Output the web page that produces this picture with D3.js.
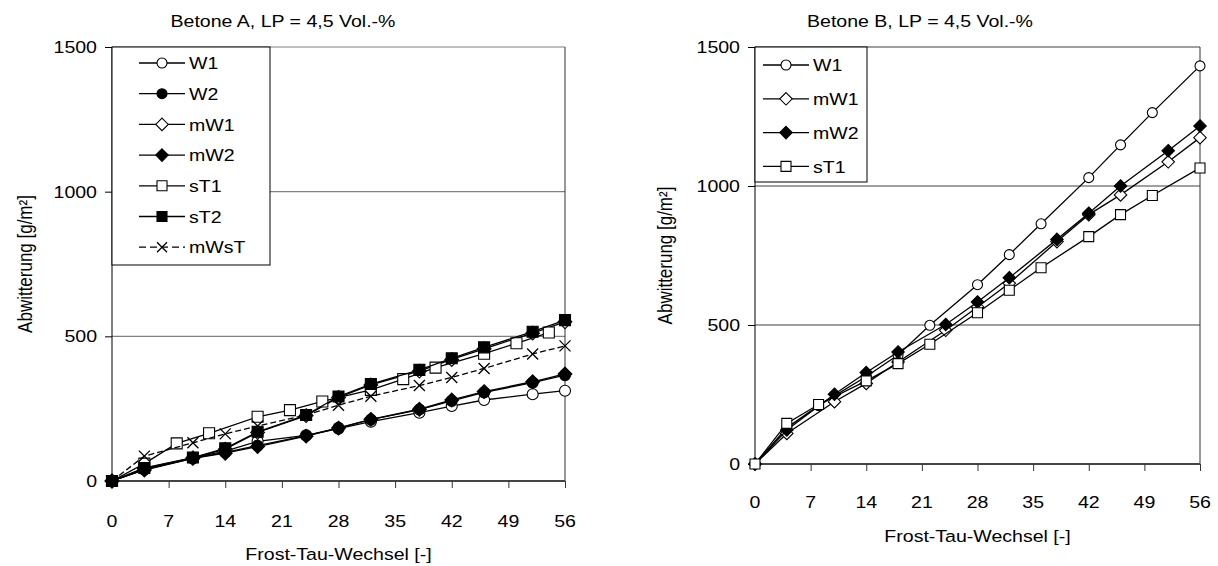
<!DOCTYPE html>
<html>
<head>
<meta charset="utf-8">
<script src="https://cdn.jsdelivr.net/npm/d3@7"></script>
<style>
  body { margin: 0; background: #fff; }
  text { font-family: "Liberation Sans", Arial, sans-serif; fill: #000; }
</style>
</head>
<body>
<svg id="mainsvg" width="1218" height="566"></svg>
<script>
// ---- data ----
const xTicks = [0, 7, 14, 21, 28, 35, 42, 49, 56];
const yTicks = [0, 500, 1000, 1500];

// Betone A
const daysA = [0, 4, 10, 14, 18, 24, 28, 32, 38, 42, 46, 52, 56];
const daysAsT1 = [0, 4, 8, 12, 18, 22, 26, 32, 36, 40, 46, 50, 54];
const aW1 = [0, 40, 80, 103, 137, 158, 181, 205, 236, 259, 280, 300, 312];
const aW2 = [0, 40, 78, 99, 122, 157, 184, 212, 247, 277, 306, 340, 366];
const amW1 = [0, 44, 80, 110, 168, 226, 289, 332, 380, 420, 457, 511, 550];
const amW2 = [0, 38, 78, 96, 119, 155, 183, 213, 248, 280, 309, 343, 370];
const asT1 = [0, 60, 130, 165, 222, 245, 275, 315, 352, 392, 440, 476, 513];
const asT2 = [0, 45, 81, 113, 170, 228, 292, 335, 384, 424, 462, 516, 556];
const amWsT = [0, 86, 132, 163, 190, 228, 262, 293, 330, 358, 389, 439, 467];

// Betone B
const daysB1 = [0, 4, 8, 14, 18, 22, 28, 32, 36, 42, 46, 50, 56];
const daysB2 = [0, 4, 10, 14, 18, 24, 28, 32, 38, 42, 46, 52, 56];
const bW1 = [0, 130, 210, 315, 392, 499, 645, 753, 864, 1030, 1148, 1264, 1432];
const bmW1 = [0, 110, 224, 290, 367, 481, 565, 650, 800, 897, 968, 1087, 1174];
const bmW2 = [0, 122, 251, 329, 403, 502, 583, 670, 808, 902, 1000, 1127, 1216];
const bsT1 = [0, 146, 214, 299, 361, 431, 544, 625, 706, 818, 897, 966, 1065];

const seriesA = [
  { name: 'W1', days: daysA, values: aW1, marker: 'circle', fill: '#fff' },
  { name: 'W2', days: daysA, values: aW2, marker: 'circle', fill: '#000' },
  { name: 'mW1', days: daysA, values: amW1, marker: 'diamond', fill: '#fff' },
  { name: 'mW2', days: daysA, values: amW2, marker: 'diamond', fill: '#000' },
  { name: 'sT1', days: daysAsT1, values: asT1, marker: 'square', fill: '#fff' },
  { name: 'sT2', days: daysA, values: asT2, marker: 'square', fill: '#000' },
  { name: 'mWsT', days: daysA, values: amWsT, marker: 'x', fill: 'none', dash: '6,3' },
];
const seriesB = [
  { name: 'W1', days: daysB1, values: bW1, marker: 'circle', fill: '#fff' },
  { name: 'mW1', days: daysB2, values: bmW1, marker: 'diamond', fill: '#fff' },
  { name: 'mW2', days: daysB2, values: bmW2, marker: 'diamond', fill: '#000' },
  { name: 'sT1', days: daysB1, values: bsT1, marker: 'square', fill: '#fff' },
];

const svg = d3.select('#mainsvg');
const FS = 17;      // font size
const SX = 1.15;    // the picture is a little wider than tall

function label(g, x, y, s, anchor, rot) {
  const t = g.append('text')
    .attr('transform', rot
      ? `translate(${x},${y}) rotate(-90) scale(1,${SX})`
      : `translate(${x},${y}) scale(${SX},1)`)
    .attr('text-anchor', anchor || 'middle')
    .attr('font-size', FS)
    .text(s);
  return t;
}

function markerPath(type, s) {
  const h = s / 2;
  if (type === 'circle') return d3.symbol(d3.symbolCircle, Math.PI * h * h)();
  if (type === 'square') return `M${-h},${-h}H${h}V${h}H${-h}Z`;
  if (type === 'diamond') { const d = h * 1.25; return `M0,${-d}L${d},0L0,${d}L${-d},0Z`; }
  return `M${-h},${-h}L${h},${h}M${h},${-h}L${-h},${h}`;
}

function drawMarker(g, type, fill, x, y, s) {
  g.append('path')
    .attr('d', markerPath(type, s))
    .attr('transform', `translate(${x},${y})`)
    .attr('fill', type === 'x' ? 'none' : fill)
    .attr('stroke', '#000')
    .attr('stroke-width', type === 'x' ? 1.3 : 1.1);
}

function panel(cfg) {
  const g = svg.append('g');
  const x = d3.scaleLinear().domain([0, 56]).range([cfg.left, cfg.right]);
  const y = d3.scaleLinear().domain([0, 1500]).range([cfg.bottom, cfg.top]);

  // gridlines + frame
  g.selectAll('.grid').data(yTicks.slice(1)).join('line')
    .attr('x1', cfg.left).attr('x2', cfg.right)
    .attr('y1', d => y(d)).attr('y2', d => y(d))
    .attr('stroke', cfg.gridColor).attr('stroke-width', 1.2);
  g.append('line')
    .attr('x1', cfg.right).attr('x2', cfg.right)
    .attr('y1', cfg.top).attr('y2', cfg.bottom)
    .attr('stroke', '#333').attr('stroke-width', 1);

  // axes
  const yAxis = g.append('g')
    .attr('transform', `translate(${cfg.left},0)`)
    .call(d3.axisLeft(y).tickValues(yTicks).tickSize(7).tickFormat(''));
  yAxis.select('.domain').attr('stroke', '#000').attr('d', `M0,${cfg.top}V${cfg.bottom}`);
  const xAxis = g.append('g')
    .attr('transform', `translate(0,${cfg.bottom})`)
    .call(d3.axisBottom(x).tickValues(xTicks).tickSize(7).tickFormat(''));
  xAxis.select('.domain').attr('stroke', '#444').attr('stroke-width', 2)
    .attr('d', `M${cfg.left},0H${cfg.right}`);
  xAxis.selectAll('.tick line').attr('stroke', '#333');

  yTicks.forEach(v => label(g, cfg.left - 15, y(v) + FS * 0.36, String(v), 'end'));
  xTicks.forEach(v => label(g, x(v), cfg.xLabelY, String(v), 'middle'));

  label(g, cfg.titleX, 27, cfg.title, 'middle');
  label(g, (cfg.left + cfg.right) / 2, cfg.xTitleY, 'Frost-Tau-Wechsel [-]', 'middle');
  label(g, cfg.yTitleX, (cfg.top + cfg.bottom) / 2, 'Abwitterung [g/m²]', 'middle', true);

  // series
  const line = d3.line().x(d => x(d[0])).y(d => y(d[1]));
  cfg.series.forEach(s => {
    const pts = s.days.map((d, i) => [d, s.values[i]]);
    g.append('path').datum(pts)
      .attr('d', line)
      .attr('fill', 'none')
      .attr('stroke', '#000')
      .attr('stroke-width', 1.3)
      .attr('stroke-dasharray', s.dash || null);
    pts.forEach(p => drawMarker(g, s.marker, s.fill, x(p[0]), y(p[1]), cfg.markerSize));
  });

  // legend
  const lg = cfg.legend;
  g.append('rect')
    .attr('x', cfg.left).attr('y', cfg.top)
    .attr('width', lg.w).attr('height', lg.h)
    .attr('fill', '#fff').attr('stroke', '#000').attr('stroke-width', 1);
  cfg.series.forEach((s, i) => {
    const ry = lg.y0 + i * lg.step;
    g.append('line')
      .attr('x1', lg.x0).attr('x2', lg.x0 + 46)
      .attr('y1', ry).attr('y2', ry)
      .attr('stroke', '#000').attr('stroke-width', 1.3)
      .attr('stroke-dasharray', s.dash ? '7,4' : null);
    drawMarker(g, s.marker, s.fill, lg.x0 + 23, ry, 10);
    label(g, lg.x0 + 50, ry + FS * 0.36, s.name, 'start');
  });
}

panel({
  left: 112, right: 565, top: 47, bottom: 481,
  title: 'Betone A, LP = 4,5 Vol.-%', titleX: 283,
  xLabelY: 527, xTitleY: 560, yTitleX: 32,
  gridColor: '#808080', markerSize: 11,
  series: seriesA,
  legend: { w: 158, h: 218, x0: 139, y0: 63, step: 30.7 },
});

panel({
  left: 755, right: 1200, top: 47, bottom: 464,
  title: 'Betone B, LP = 4,5 Vol.-%', titleX: 920,
  xLabelY: 508, xTitleY: 542, yTitleX: 672,
  gridColor: '#404040', markerSize: 10,
  series: seriesB,
  legend: { w: 112, h: 135, x0: 763, y0: 65, step: 33.8 },
});
</script>
</body>
</html>
